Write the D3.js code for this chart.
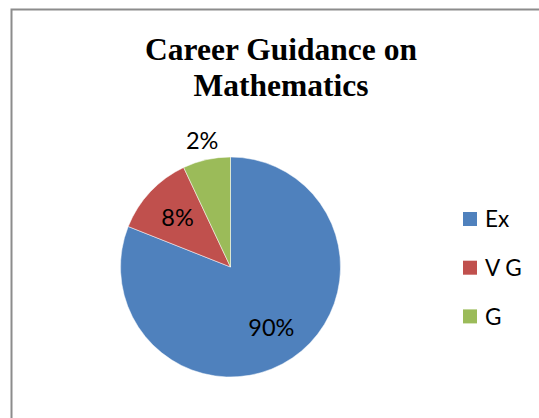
<!DOCTYPE html>
<html><head><meta charset="utf-8">
<script src="https://cdn.jsdelivr.net/npm/d3@7"></script>
<style>html,body{margin:0;padding:0;background:#fff;}svg{display:block;}</style>
</head><body>
<script>
const categories = ["Ex", "V G", "G"];
const values = [81, 12, 7];
const labels = ["90%", "8%", "2%"];
const colors = ["#4F81BD", "#C0504D", "#9BBB59"];
const titleLines = ["Career Guidance on", "Mathematics"];

const W = 539, H = 418;
const svg = d3.select("body").append("svg").attr("width", W).attr("height", H);

// frame
svg.append("rect").attr("x", 11.5).attr("y", 9.5).attr("width", W + 20).attr("height", H + 20)
  .attr("fill", "none").attr("stroke", "#8c8c8c").attr("stroke-width", 2);

// title
svg.append("text").attr("x", 281).attr("y", 60)
  .attr("text-anchor", "middle")
  .style("font-family", "'Liberation Serif','Times New Roman',serif")
  .style("font-weight", "bold").style("font-size", "31.5px").attr("fill", "#000")
  .selectAll("tspan").data(titleLines).join("tspan")
  .attr("x", 281).attr("dy", (d, i) => i ? 36 : 0).text(d => d);

const cx = 230.5, cy = 267, r = 110;
const g = svg.append("g").attr("transform", `translate(${cx},${cy})`);
const pie = d3.pie().sort(null).value(d => d)(values);
const arc = d3.arc().innerRadius(0).outerRadius(r);
g.selectAll("path").data(pie).join("path")
  .attr("d", arc).attr("fill", (d, i) => colors[i])
  .attr("stroke", "#fff").attr("stroke-width", 0.5);

const inArc = d3.arc().innerRadius(r * 0.66).outerRadius(r * 0.66);
const outArc = d3.arc().innerRadius(r * 1.18).outerRadius(r * 1.18);
g.selectAll("text.lbl").data(pie).join("text").attr("class", "lbl")
  .attr("transform", d => {
    const small = (d.endAngle - d.startAngle) < 0.5;
    const c = (small ? outArc : inArc).centroid(d);
    return `translate(${c[0]},${c[1]})`;
  })
  .attr("text-anchor", "middle").attr("dy", "0.36em")
  .style("font-family", "Lato, 'Open Sans', sans-serif").style("font-size", "23.5px")
  .attr("fill", "#000").text((d, i) => labels[i]);

// legend
const lg = svg.append("g").attr("transform", "translate(463,219)");
const rows = lg.selectAll("g").data(categories).join("g")
  .attr("transform", (d, i) => `translate(0,${i * 48.7})`);
rows.append("rect").attr("x", 0).attr("y", -7).attr("width", 14).attr("height", 14)
  .attr("fill", (d, i) => colors[i]);
rows.append("text").attr("x", 22).attr("y", 0).attr("dy", "0.36em")
  .style("font-family", "Lato, 'Open Sans', sans-serif").style("font-size", "22.5px")
  .attr("fill", "#000").text(d => d);
</script>
</body></html>
